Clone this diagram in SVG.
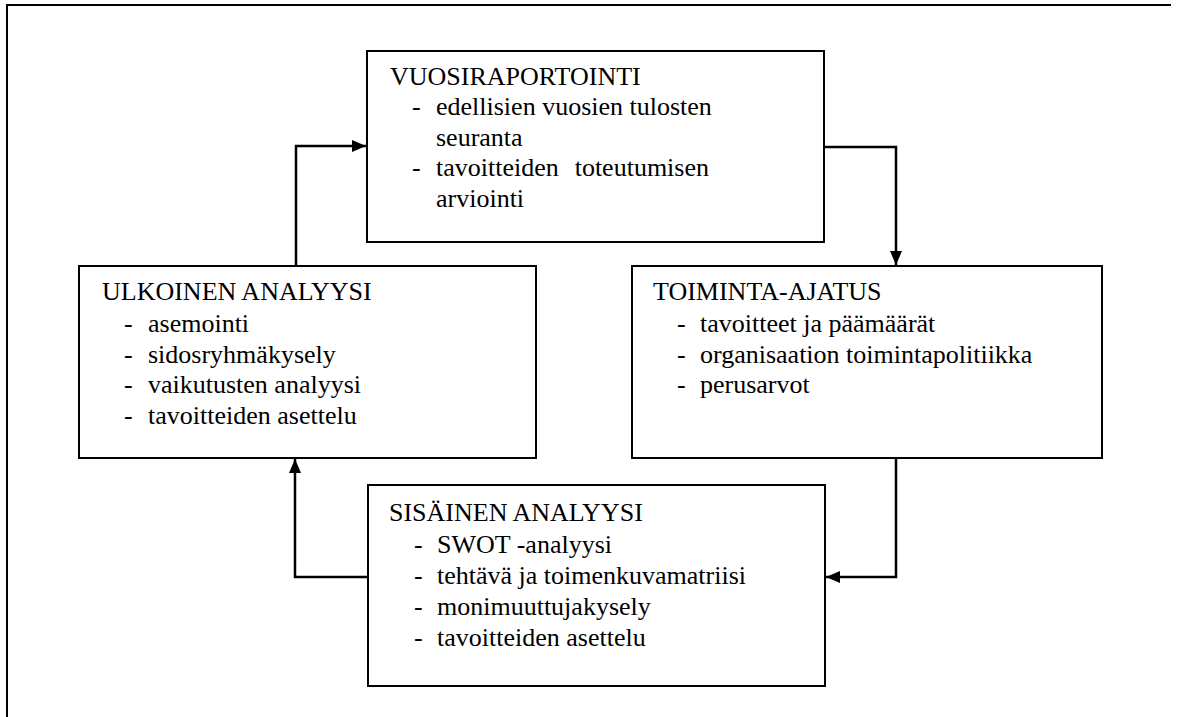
<svg xmlns="http://www.w3.org/2000/svg" width="1183" height="717" viewBox="0 0 1183 717">
<style>
.box{fill:#fff;stroke:#000;stroke-width:2}
.t{font-family:"Liberation Serif","Times New Roman",serif;font-size:26px;fill:#000}
.c{fill:none;stroke:#000;stroke-width:2.5}
</style>
<defs>
<marker id="ah" markerWidth="14" markerHeight="12" refX="14" refY="6" orient="auto" markerUnits="userSpaceOnUse">
<path d="M0,0 L14,6 L0,12 Z" fill="#000"/>
</marker>
</defs>
<rect width="1183" height="717" fill="#fff"/>
<path d="M7,717 V5 H1171" fill="none" stroke="#000" stroke-width="2"/>
<g id="connectors">
<path class="c" d="M296,266 V146 H366" marker-end="url(#ah)"/>
<path class="c" d="M824,147 V147 H896 V265" marker-end="url(#ah)"/>
<path class="c" d="M896,458 V577 H826" marker-end="url(#ah)"/>
<path class="c" d="M368,577 H295 V459" marker-end="url(#ah)"/>
</g>
<g id="vuosiraportointi">
<rect class="box" x="367" y="51" width="457" height="191"/>
<text class="t" x="390" y="85">VUOSIRAPORTOINTI</text>
<text class="t" x="412" y="115">-</text>
<text class="t" x="436" y="115">edellisien vuosien tulosten</text>
<text class="t" x="436" y="146">seuranta</text>
<text class="t" x="412" y="176">-</text>
<text class="t" x="436" y="176">tavoitteiden</text>
<text class="t" x="709" y="176" text-anchor="end">toteutumisen</text>
<text class="t" x="436" y="207">arviointi</text>
</g>
<g id="ulkoinen">
<rect class="box" x="79" y="266" width="457" height="192"/>
<text class="t" x="102" y="300">ULKOINEN ANALYYSI</text>
<text class="t" x="124" y="332">-</text><text class="t" x="148" y="332">asemointi</text>
<text class="t" x="124" y="363">-</text><text class="t" x="148" y="363">sidosryhmäkysely</text>
<text class="t" x="124" y="393">-</text><text class="t" x="148" y="393">vaikutusten analyysi</text>
<text class="t" x="124" y="424">-</text><text class="t" x="148" y="424">tavoitteiden asettelu</text>
</g>
<g id="toiminta">
<rect class="box" x="632" y="266" width="470" height="192"/>
<text class="t" x="653" y="300">TOIMINTA-AJATUS</text>
<text class="t" x="677" y="332">-</text><text class="t" x="700" y="332">tavoitteet ja päämäärät</text>
<text class="t" x="677" y="363">-</text><text class="t" x="700" y="363">organisaation toimintapolitiikka</text>
<text class="t" x="677" y="393">-</text><text class="t" x="700" y="393">perusarvot</text>
</g>
<g id="sisainen">
<rect class="box" x="368" y="485" width="457" height="201"/>
<text class="t" x="389" y="521">SISÄINEN ANALYYSI</text>
<text class="t" x="414" y="553">-</text><text class="t" x="437" y="553">SWOT -analyysi</text>
<text class="t" x="414" y="584">-</text><text class="t" x="437" y="584">tehtävä ja toimenkuvamatriisi</text>
<text class="t" x="414" y="615">-</text><text class="t" x="437" y="615">monimuuttujakysely</text>
<text class="t" x="414" y="646">-</text><text class="t" x="437" y="646">tavoitteiden asettelu</text>
</g>
</svg>
